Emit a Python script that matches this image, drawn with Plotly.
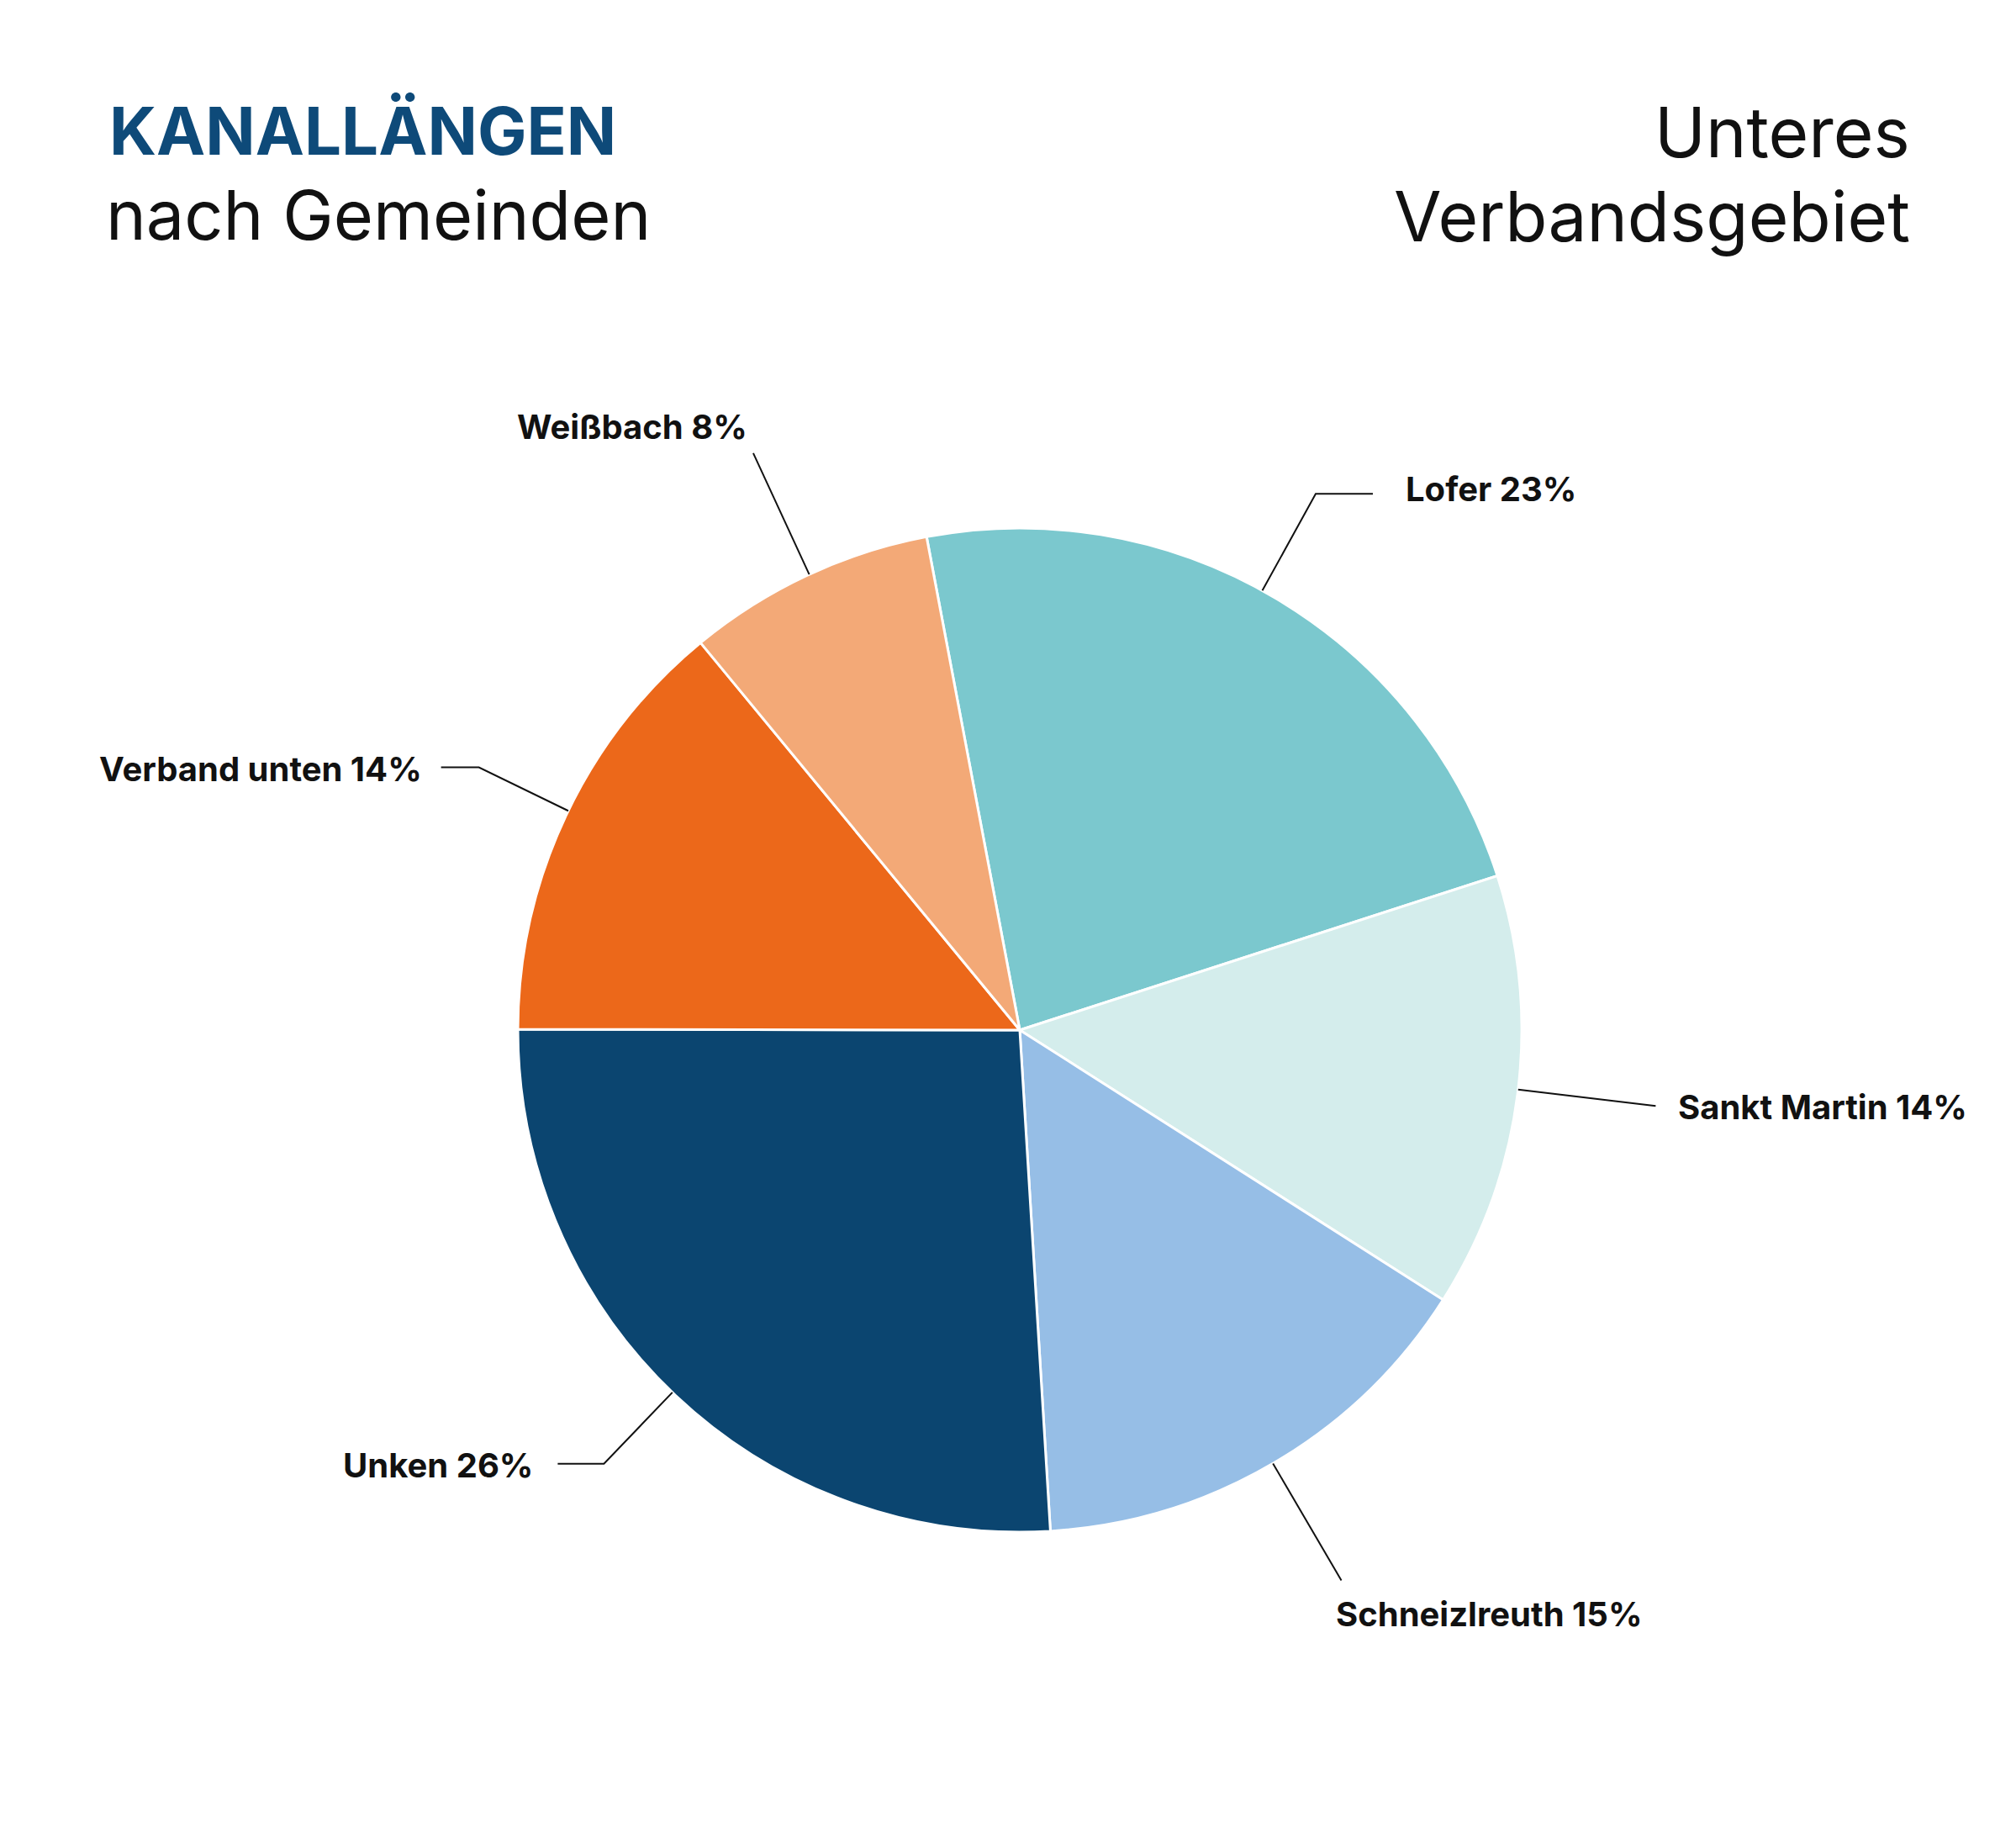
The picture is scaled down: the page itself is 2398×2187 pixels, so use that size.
import math

import plotly.graph_objects as go

# data
gemeinden = ["Lofer", "Sankt Martin", "Schneizlreuth", "Unken", "Verband unten", "Weißbach"]
anteile = [23, 14, 15, 26, 14, 8]
farben = ["#7bc8ce", "#d4edec", "#96bee6", "#0b4570", "#ec681a", "#f3a977"]

titel = "KANALLÄNGEN"
untertitel = "nach Gemeinden"
gebiet = ["Unteres", "Verbandsgebiet"]

# layout (pixels)
W, H = 2398, 2187
CX, CY, R = 1213, 1225, 597
ROTATION = -10.7
FONT = "Inter"

# leader line per slice: angle shift, radial length factor, horizontal elbow, label anchor, offsets
leader = [
    (-1.8, 1.22, 68, "left", 37, -6),
    (-0.5, 1.276, 0, "left", 25, 1),
    (0.2, 1.27, 0, "left", -9, 40),
    (0.5, 1.197, -55, "right", -27, 2),
    (0.6, 1.198, -45, "right", -21, 2),
    (0.3, 1.266, 0, "right", -5, -31),
]


def px(x, y):
    return x / W, 1 - y / H


fig = go.Figure(go.Pie(
    labels=gemeinden,
    values=anteile,
    sort=False,
    direction="clockwise",
    rotation=ROTATION,
    marker=dict(colors=farben, line=dict(color="white", width=3)),
    textinfo="none",
    hoverinfo="label+percent",
    domain=dict(x=[(CX - R) / W, (CX + R) / W], y=[1 - (CY + R) / H, 1 - (CY - R) / H]),
    showlegend=False,
))

total = sum(anteile)
start = ROTATION
shapes = []
annotations = []
for name, val, (shift, k, elbow, anchor, dx, dy) in zip(gemeinden, anteile, leader):
    mid = math.radians(start + val / total * 180 + shift)
    start += val / total * 360
    x0, y0 = CX + R * math.sin(mid), CY - R * math.cos(mid)
    x1, y1 = CX + k * R * math.sin(mid), CY - k * R * math.cos(mid)
    x2, y2 = x1 + elbow, y1
    p0, p1, p2 = px(x0, y0), px(x1, y1), px(x2, y2)
    shapes.append(dict(
        type="path", xref="paper", yref="paper",
        path=f"M {p0[0]} {p0[1]} L {p1[0]} {p1[1]} L {p2[0]} {p2[1]}",
        line=dict(color="#111111", width=2),
    ))
    lx, ly = px(x2 + dx, y2 + dy)
    pct = round(val / total * 100)
    annotations.append(dict(
        x=lx, y=ly, xref="paper", yref="paper", xanchor=anchor, yanchor="middle",
        text=f"{name} {pct}%", showarrow=False,
        font=dict(family=FONT, size=40, color="#111111", weight=700),
    ))

# titles
tx, ty = px(128, 155)
annotations.append(dict(x=tx, y=ty, xref="paper", yref="paper", xanchor="left", yanchor="middle",
                        text=titel, showarrow=False,
                        font=dict(family=FONT, size=78, color="#0e4a79", weight=700)))
tx, ty = px(124, 256)
annotations.append(dict(x=tx, y=ty, xref="paper", yref="paper", xanchor="left", yanchor="middle",
                        text=untertitel, showarrow=False,
                        font=dict(family=FONT, size=81, color="#111111")))
for i, zeile in enumerate(gebiet):
    tx, ty = px(2274, 157 + i * 100)
    annotations.append(dict(x=tx, y=ty, xref="paper", yref="paper", xanchor="right", yanchor="middle",
                            text=zeile, showarrow=False,
                            font=dict(family=FONT, size=82, color="#111111")))

fig.update_layout(
    width=W, height=H,
    margin=dict(l=0, r=0, t=0, b=0),
    paper_bgcolor="white",
    plot_bgcolor="white",
    shapes=shapes,
    annotations=annotations,
)

# drop the default page margin so the figure fills the window exactly
fig.write_html(
    "out.html",
    config={"displayModeBar": False},
    post_script="document.body.style.margin = '0';",
)
